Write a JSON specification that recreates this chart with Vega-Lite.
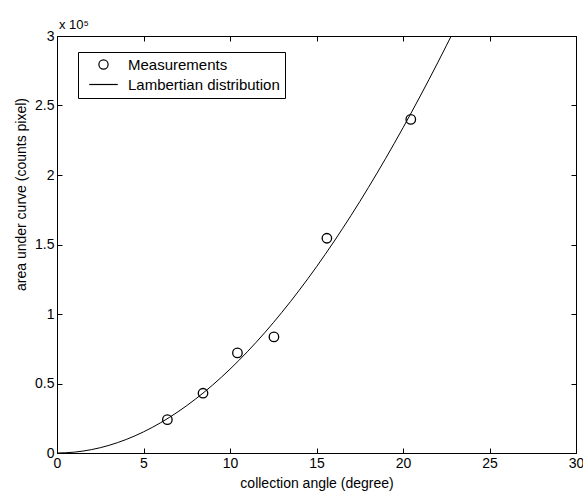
{
  "$schema": "https://vega.github.io/schema/vega-lite/v6.json",
  "width": 519,
  "height": 417,
  "autosize": {"type": "none"},
  "padding": {"left": 57, "top": 36, "right": 7, "bottom": 44},
  "background": "white",
  "config": {
    "view": {"stroke": "black", "strokeWidth": 1},
    "font": "Liberation Sans",
    "axis": {
      "domain": false,
      "grid": false,
      "labelFlush": false,
      "tickColor": "black",
      "tickSize": -5,
      "labelColor": "black",
      "labelFont": "Liberation Sans",
      "labelFontSize": 14,
      "titleFont": "Liberation Sans",
      "titleFontSize": 14,
      "titleFontWeight": "normal",
      "titleColor": "black"
    }
  },
  "title": {"text": "x 10⁵", "anchor": "start", "frame": "group", "fontSize": 13, "fontWeight": "normal", "offset": -3, "dx": 2, "color": "black", "font": "Liberation Sans"},
  "datasets": {
    "measurements": [
      {"angle": 6.38, "area": 0.24, "series": "Measurements"},
      {"angle": 8.44, "area": 0.43, "series": "Measurements"},
      {"angle": 10.43, "area": 0.72, "series": "Measurements"},
      {"angle": 12.54, "area": 0.835, "series": "Measurements"},
      {"angle": 15.6, "area": 1.545, "series": "Measurements"},
      {"angle": 20.45, "area": 2.40, "series": "Measurements"}
    ],
    "curve": [
      {"angle": 0, "area": 0},
      {"angle": 1, "area": 0.0061},
      {"angle": 2, "area": 0.0244},
      {"angle": 3, "area": 0.0548},
      {"angle": 4, "area": 0.0973},
      {"angle": 5, "area": 0.1519},
      {"angle": 6, "area": 0.2185},
      {"angle": 7, "area": 0.2970},
      {"angle": 8, "area": 0.3874},
      {"angle": 9, "area": 0.4894},
      {"angle": 10, "area": 0.6031},
      {"angle": 11, "area": 0.7282},
      {"angle": 12, "area": 0.8645},
      {"angle": 13, "area": 1.0121},
      {"angle": 14, "area": 1.1705},
      {"angle": 15, "area": 1.3397},
      {"angle": 16, "area": 1.5195},
      {"angle": 17, "area": 1.7096},
      {"angle": 18, "area": 1.9098},
      {"angle": 19, "area": 2.1199},
      {"angle": 20, "area": 2.3396},
      {"angle": 21, "area": 2.5686},
      {"angle": 22, "area": 2.8066},
      {"angle": 23, "area": 3.0534}
    ]
  },
  "layer": [
    {
      "data": {"name": "measurements"},
      "mark": {"type": "point", "filled": false, "color": "black", "strokeWidth": 1.3, "size": 90, "opacity": 1},
      "encoding": {
        "x": {
          "field": "angle", "type": "quantitative",
          "scale": {"domain": [0, 30], "nice": false, "zero": false},
          "axis": {"values": [0, 5, 10, 15, 20, 25, 30], "title": "collection angle (degree)", "labelPadding": 8, "titlePadding": 6}
        },
        "y": {
          "field": "area", "type": "quantitative",
          "scale": {"domain": [0, 3], "nice": false},
          "axis": {"values": [0, 0.5, 1, 1.5, 2, 2.5, 3], "format": "~g", "title": "area under curve (counts pixel)", "labelPadding": 8, "titleX": -36, "titleY": 158, "titleAngle": 270, "titleBaseline": "middle", "titleAlign": "center"}
        },
        "shape": {
          "field": "series", "type": "nominal",
          "scale": {"domain": ["Measurements", "Lambertian distribution"], "range": ["circle", "M-3.1,0H3.1"]},
          "legend": {
            "orient": "none", "legendX": 21, "legendY": 16, "title": null,
            "strokeColor": "black", "fillColor": "white", "padding": 5,
            "symbolOffset": 13, "labelOffset": 17, "labelFontSize": 15, "labelFont": "Liberation Sans", "labelColor": "black",
            "symbolSize": 85, "symbolStrokeWidth": 1.2, "symbolStrokeColor": "black", "symbolFillColor": "transparent",
            "rowPadding": 4, "labelLimit": 300
          }
        }
      }
    },
    {
      "data": {"name": "curve"},
      "mark": {"type": "line", "color": "black", "strokeWidth": 1, "clip": true, "interpolate": "monotone"},
      "encoding": {
        "x": {"field": "angle", "type": "quantitative", "axis": {"orient": "top", "values": [0, 5, 10, 15, 20, 25, 30], "labels": false, "title": null}},
        "y": {"field": "area", "type": "quantitative", "axis": {"orient": "right", "values": [0, 0.5, 1, 1.5, 2, 2.5, 3], "labels": false, "title": null}}
      }
    }
  ],
  "resolve": {"axis": {"x": "independent", "y": "independent"}}
}
